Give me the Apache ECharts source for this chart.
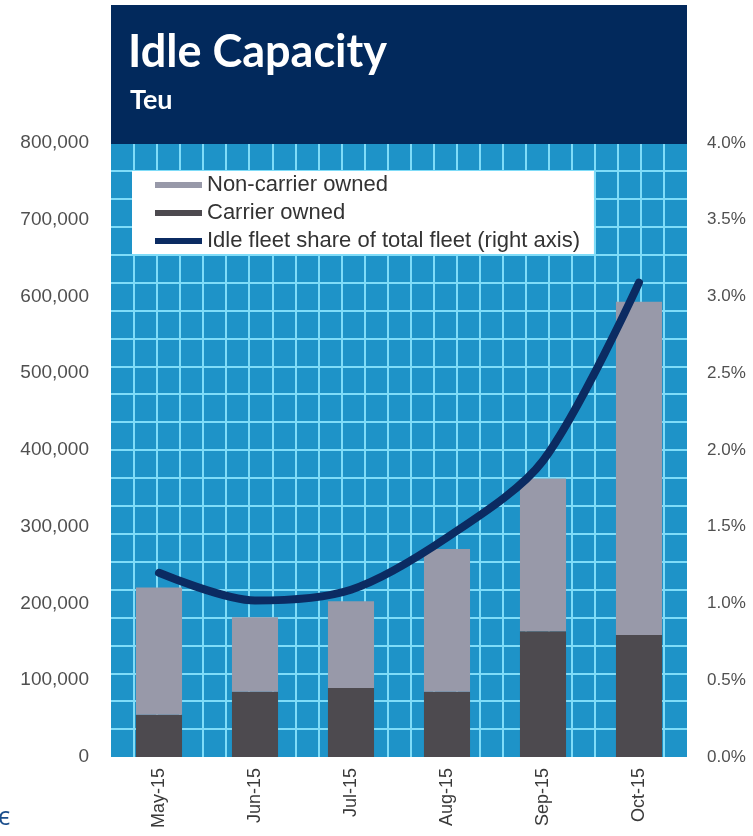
<!DOCTYPE html>
<html>
<head>
<meta charset="utf-8">
<script src="https://cdn.jsdelivr.net/npm/echarts@6/dist/echarts.min.js"></script>
<style>
  html, body { margin: 0; padding: 0; background: #ffffff; }
  #chart { width: 753px; height: 836px; }
</style>
</head>
<body>
<div id="chart"></div>
<script>
const months = ['May-15', 'Jun-15', 'Jul-15', 'Aug-15', 'Sep-15', 'Oct-15'];
const carrierOwned = [55000, 85000, 90000, 85000, 164000, 159000];
const nonCarrierOwned = [166000, 97000, 113000, 186000, 199000, 434000];
const idleShare = [1.20, 1.02, 1.09, 1.43, 1.93, 3.09];
const leftTicks = { min: 0, max: 800000, interval: 100000 };
const rightTicks = { min: 0, max: 4, interval: 0.5 };
const patternCols = 25;
const patternRows = 22;

const chart = echarts.init(document.getElementById('chart'), null, { renderer: 'canvas' });

const hiddenAxisBits = {
  axisLine: { show: false },
  axisTick: { show: false },
  axisLabel: { show: false }
};
const patternLine = { show: true, showMinLine: false, showMaxLine: false, lineStyle: { color: '#7fdcf8', width: 2 } };

const option = {
  backgroundColor: '#ffffff',
  animation: false,
  textStyle: { fontFamily: 'Liberation Sans, Arial, sans-serif' },
  grid: {
    left: 111, right: 66, top: 143, bottom: 79,
    show: true, backgroundColor: '#1e93c8', borderWidth: 0
  },
  graphic: [
    { type: 'rect', shape: { x: 111, y: 5, width: 576, height: 139 }, style: { fill: '#02295c' }, z: 10 },
    { type: 'text', left: 128, top: 30, style: { text: 'Idle Capacity', fill: '#ffffff', font: 'bold 45px Lato, "Open Sans", sans-serif' }, z: 11 },
    { type: 'text', left: 130, top: 87, style: { text: 'Teu', fill: '#ffffff', font: 'bold 27px Lato, "Open Sans", sans-serif' }, z: 11 },
    { type: 'text', left: -2, top: 805, style: { text: 'є', fill: '#1b4e8c', font: '25px "Open Sans", sans-serif' }, z: 11 }
  ],
  legend: {
    orient: 'vertical',
    left: 132, top: 171,
    backgroundColor: '#ffffff',
    padding: [3, 14, 2, 23],
    itemGap: 6,
    itemWidth: 47,
    itemHeight: 6,
    z: 20,
    textStyle: { fontSize: 22, lineHeight: 22, color: '#333333', fontFamily: 'Liberation Sans, Arial, sans-serif' },
    data: [
      { name: 'Non-carrier owned', icon: 'rect' },
      { name: 'Carrier owned', icon: 'rect' },
      { name: 'Idle fleet share of total fleet (right axis)', icon: 'rect' }
    ]
  },
  xAxis: [
    {
      type: 'category',
      data: months,
      boundaryGap: true,
      axisLine: { show: false },
      axisTick: { show: false },
      axisLabel: { rotate: 90, fontSize: 18, color: '#3a3a3a', margin: 11 },
      splitLine: { show: false }
    },
    {
      type: 'value', position: 'top', min: 0, max: patternCols, interval: 1,
      ...hiddenAxisBits, splitLine: patternLine
    }
  ],
  yAxis: [
    {
      type: 'value', position: 'left',
      min: leftTicks.min, max: leftTicks.max, interval: leftTicks.interval,
      axisLine: { show: false }, axisTick: { show: false },
      axisLabel: {
        fontSize: 19, color: '#505050', margin: 22,
        formatter: v => v.toLocaleString('en-US')
      },
      splitLine: { show: false }
    },
    {
      type: 'value', position: 'right',
      min: rightTicks.min, max: rightTicks.max, interval: rightTicks.interval,
      axisLine: { show: false }, axisTick: { show: false },
      axisLabel: { fontSize: 17, color: '#505050', margin: 20, formatter: v => v.toFixed(1) + '%' },
      splitLine: { show: false }
    },
    {
      type: 'value', position: 'left', offset: 0, min: 0, max: patternRows, interval: 1,
      ...hiddenAxisBits, splitLine: patternLine
    }
  ],
  series: [
    {
      name: 'Carrier owned', type: 'bar', stack: 'cap', xAxisIndex: 0, yAxisIndex: 0,
      barWidth: '48%', data: carrierOwned,
      itemStyle: { color: '#4d4a4f' }, z: 3
    },
    {
      name: 'Non-carrier owned', type: 'bar', stack: 'cap', xAxisIndex: 0, yAxisIndex: 0,
      barWidth: '48%', data: nonCarrierOwned,
      itemStyle: { color: '#9899a9' }, z: 3
    },
    {
      name: 'Idle fleet share of total fleet (right axis)', type: 'line', xAxisIndex: 0, yAxisIndex: 1,
      data: idleShare, smooth: 0.3, showSymbol: false, symbol: 'none',
      lineStyle: { color: '#0b2b62', width: 8, cap: 'round' },
      itemStyle: { color: '#0b2b62' }, z: 4
    }
  ]
};
chart.setOption(option);
</script>
</body>
</html>
